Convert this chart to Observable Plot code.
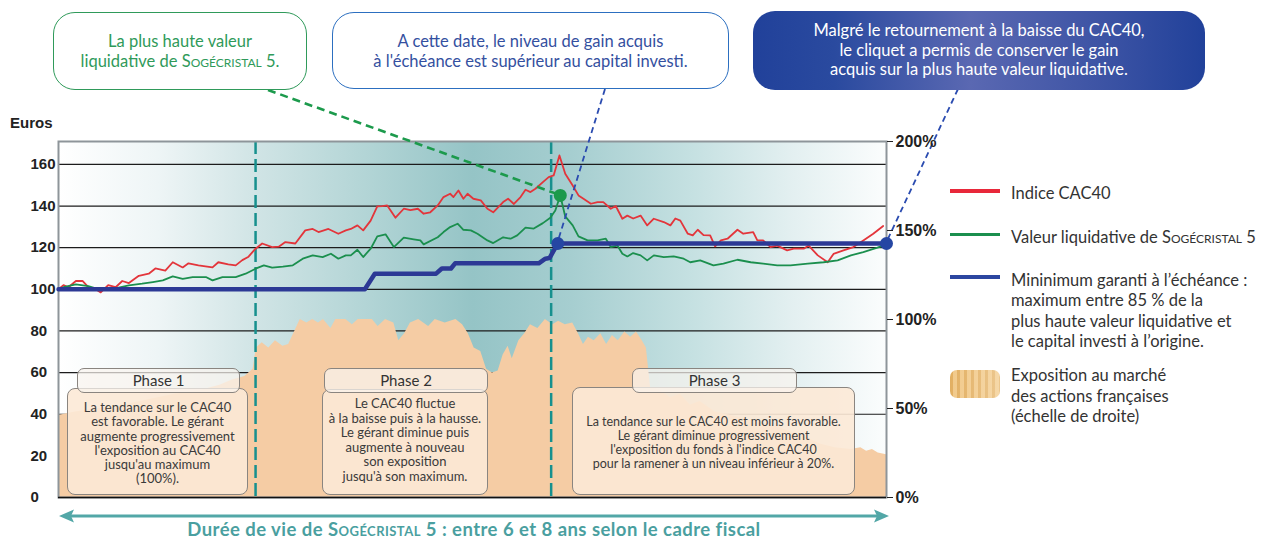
<!DOCTYPE html>
<html><head><meta charset="utf-8">
<script src="https://cdn.jsdelivr.net/npm/d3@7"></script>
<script src="https://cdn.jsdelivr.net/npm/@observablehq/plot@0.6"></script>
<style>
body{margin:0;background:#fff;font-family:Lato,"Open Sans",sans-serif;}
#wrap{position:relative;width:1271px;height:540px;overflow:hidden;}
#wrap > svg{position:absolute;left:0;top:0;}
.abs{position:absolute;}
.sc{font-variant:small-caps;}
.callout{position:absolute;box-sizing:border-box;border-radius:22px;display:flex;align-items:center;justify-content:center;text-align:center;font-size:16.5px;line-height:20px;}
#c1{left:53px;top:12px;width:254px;height:78px;border:1.5px solid #2f9a5a;color:#2f9a5a;background:#fff;}
#c2{left:332px;top:12px;width:397px;height:77px;border:1.5px solid #2c6fc0;color:#3450a0;background:#fff;}
#c3{left:753px;top:11px;width:452px;height:79px;color:#fff;line-height:19.5px;
  background:linear-gradient(90deg,#21419a 0%,#2a4a9f 18%,#5a68b2 48%,#3c53a4 78%,#21419a 100%);}
.pmain{position:absolute;box-sizing:border-box;border:1.2px solid #8a8580;border-radius:8px;background:rgba(252,233,214,0.9);color:#3a3a3a;text-align:center;font-size:13px;}
.phead{position:absolute;box-sizing:border-box;border:1.2px solid #8a8580;border-radius:7px;background:rgba(250,244,238,0.72);color:#333;text-align:center;font-size:15px;line-height:23px;}
#p1m{left:67px;top:388px;width:181px;height:107px;line-height:14.3px;padding-top:11px;}
#p1h{left:77px;top:368px;width:163px;height:25px;}
#p2m{left:322px;top:389px;width:166px;height:106px;line-height:14.6px;padding-top:6px;}
#p2h{left:324px;top:368px;width:164px;height:25px;}
#p3m{left:572px;top:387px;width:283px;height:108px;line-height:13.9px;padding-top:27px;font-size:12.5px;}
#p3h{left:632px;top:368px;width:165px;height:25px;}
.lg{position:absolute;left:1011px;font-size:16.5px;color:#333;white-space:nowrap;}
.lgline{position:absolute;left:950px;width:50px;}
#euros{left:10px;top:114px;font-family:"Liberation Sans",Arial,sans-serif;font-weight:bold;font-size:15px;color:#222;}
#life{left:0;width:948px;top:518.5px;height:20px;line-height:20px;text-align:center;color:#4a9fa0;font-weight:bold;font-size:18.5px;letter-spacing:0.45px;white-space:nowrap;}
</style>
</head><body>
<div id="wrap"></div>
<script>
// ---- data ----
const YMAX = 171;                       // left scale top (euros)
const leftTicks = [0,20,40,60,80,100,120,140,160];
const gridValues = [20,40,60,80,100,120,140,160];
const rightTicks = [0,50,100,150,200];  // % exposure
const phaseBounds = [23.8, 59.5];       // time (% of fund life)

const cac40 = [[0,100],[0.6,102],[1.2,101],[2.1,104],[2.9,104],[3.6,101],[4.5,100],[5.1,98.5],[6.0,102],[6.9,101],[7.7,104],[8.5,103],[9.7,106.5],[10.9,107.5],[11.7,110],[12.9,109],[13.8,113],[15.0,110.5],[15.7,112.5],[16.9,111.5],[18.6,110.5],[19.3,113],[20.5,112],[21.4,111.5],[22.2,114],[22.9,115.5],[23.8,119.5],[24.6,122],[25.8,120.3],[26.6,120.5],[27.4,122.7],[28.6,122],[29.8,128.3],[30.7,129],[31.4,127.5],[32.6,129],[33.8,126.7],[34.7,128.3],[35.3,129],[36.1,130.7],[36.8,128.3],[37.7,133],[38.5,139.8],[39.1,140],[39.7,140.3],[40.7,134.4],[41.7,138.7],[42.5,138],[43.4,138.7],[44.1,136.3],[44.9,137],[45.8,140.3],[46.5,144.3],[47.3,145.9],[47.7,144.3],[48.3,147.5],[48.9,143.5],[49.4,145.9],[50.1,143.5],[51.0,142.7],[51.8,138.7],[52.5,137],[53.7,141.9],[54.3,143.5],[55.0,141],[55.8,144.3],[56.4,147.8],[57.0,146.7],[57.6,148.3],[58.5,151.5],[59.2,153.9],[59.8,154.7],[60.5,164.3],[61.2,155.5],[62.1,149.9],[62.8,145.1],[63.4,143.5],[64.3,141.1],[65.1,141.9],[65.8,141.9],[66.7,138.7],[67.3,140],[68.1,133.9],[68.7,135.4],[69.4,134],[70.3,135.4],[71.1,130.7],[71.9,133.9],[73.1,132.3],[73.9,130.7],[74.5,134],[75.1,133],[76.0,126.7],[76.6,125.9],[77.2,128.6],[77.9,126],[78.7,125.9],[79.3,120.6],[80.0,123.5],[80.8,124.3],[82.0,128.6],[82.7,126.7],[83.9,127.5],[84.4,123.5],[85.1,123.5],[86.0,120.3],[86.8,121],[88.0,118.7],[88.8,119.5],[90.0,119.5],[90.6,121],[91.7,116.3],[92.9,113],[93.6,117],[94.8,118.7],[96.0,120.3],[97.2,123.5],[98.4,126.7],[99.6,130.4]];

const sogecristal = [[0,100],[0.6,101],[2.1,102.4],[3.6,101.5],[4.5,100.5],[6.3,100],[8.5,101.9],[10.1,102.7],[11.4,103.5],[12.6,104.3],[13.8,106.2],[15.0,105],[16.2,105.9],[17.8,105.9],[18.6,104.3],[19.8,105.9],[21.4,105.9],[22.6,107.5],[23.8,109.9],[24.8,111.5],[25.8,110.4],[27.1,110.9],[28.3,111.5],[29.5,114.7],[30.7,116.3],[31.9,115.5],[32.9,117.1],[33.8,114.7],[34.7,116.3],[35.3,116.3],[36.1,119],[36.8,115.5],[37.7,119.5],[38.5,125.4],[39.5,126.4],[40.5,120.3],[41.7,124.8],[42.9,124],[43.7,123.5],[44.1,121.6],[45.8,125],[46.5,127.5],[47.3,129.9],[48.2,131.5],[48.9,128.6],[49.8,128.3],[50.6,126.7],[51.8,123.5],[52.5,122.2],[53.7,125],[54.6,124.3],[55.4,125.9],[56.4,129.6],[57.4,129.2],[58.5,131.8],[59.4,134.4],[60.0,137.9],[60.6,145.1],[61.2,135],[62.1,130.7],[62.8,125.4],[63.9,123.5],[65.1,123.5],[66.1,124.3],[66.7,120.3],[67.5,121],[68.1,117.1],[68.7,115.8],[69.4,117.4],[70.3,116.3],[71.1,113.9],[71.9,116.3],[73.1,115.5],[74.3,115.8],[75.5,114.7],[76.3,113],[77.5,113.9],[79.1,111.5],[80.3,112.3],[82.0,114.2],[83.6,113],[85.1,112.3],[86.8,111.5],[88.4,111.5],[90.5,112.3],[92.4,113],[94.1,113.9],[95.7,116.3],[97.2,117.9],[98.9,120],[100,121.6]];

const guarantee = [[0,100],[37.0,100],[38.2,107.5],[45.6,107.5],[46.3,110],[47.4,110],[47.9,112.5],[58.0,112.5],[58.8,114.7],[59.3,115],[60.3,122],[100,122]];

const exposure = [[0,46],[2,48],[5,50],[8,52],[11,55],[14,58],[17,60],[19.5,63],[21,66],[22.5,68],[23.5,72],[23.9,84],[24.6,87],[25.4,84],[26.2,88],[27.1,85],[27.8,86],[28.4,92],[29.2,100],[30.0,98],[30.7,100],[31.4,98],[32.0,100],[32.9,95],[33.5,100],[34.7,100],[35.5,97],[36.2,100],[37.9,100],[38.6,96],[39.5,100],[40.5,98],[41.1,88],[41.8,92],[42.5,98],[43.5,100],[44.7,96],[45.5,100],[46.7,98],[48.0,100],[48.8,97],[49.5,92],[50.2,84],[51.0,82],[51.7,72],[52.4,70],[53.1,71],[53.7,80],[54.3,85],[54.8,78],[55.6,88],[56.3,92],[57.0,97],[57.9,95],[58.8,100],[59.7,97],[60.4,99],[61.2,97],[62.1,98],[62.8,92],[63.4,86],[64.0,90],[64.7,88],[65.5,92],[66.2,86],[66.9,91],[67.6,88],[68.4,93],[69.1,90],[69.8,93],[70.5,88],[71.0,84],[71.5,62],[72.7,60],[73.9,56],[75.1,58],[76.3,52],[77.5,54],[79.3,48],[81.2,46],[83.0,44],[84.8,42],[86.6,40],[88.4,37],[90.2,34],[92.0,30],[93.8,28],[95.7,27],[96.9,28],[97.6,26],[98.3,27],[99.0,25],[100,24]];

const highPoint = [[60.6,145.1]];
const guaranteePoints = [[60.3,122],[100,122]];

// ---- chart ----
const toObj = a => a.map(([t, v]) => ({t, v}));

function defsMark() {
  const defs = d3.create("svg:defs");
  const g = defs.append("linearGradient").attr("id", "bgGrad").attr("x1", 0).attr("x2", 1).attr("y1", 0).attr("y2", 0);
  [[0,"#ffffff"],[0.12,"#eef5f6"],[0.24,"#d0e4e5"],[0.37,"#b3d5d6"],[0.5,"#95c4c6"],[0.62,"#a6ced0"],[0.76,"#c4e0e1"],[0.89,"#e4f0f1"],[1,"#fbfdfd"]]
    .forEach(([o, c]) => g.append("stop").attr("offset", o).attr("stop-color", c));
  return defs.node();
}

const font = "'Liberation Sans', Arial, sans-serif";
const chart = Plot.plot({
  width: 1271, height: 540,
  marginLeft: 58, marginRight: 385, marginTop: 141, marginBottom: 43,
  x: {domain: [0, 100], axis: null},
  y: {domain: [0, YMAX], axis: null},
  style: {background: "transparent", overflow: "visible"},
  marks: [
    defsMark,
    Plot.frame({fill: "url(#bgGrad)"}),
    Plot.ruleY(gridValues, {stroke: "#1c1c1c", strokeWidth: 1.2}),
    Plot.areaY(toObj(exposure), {x: "t", y: d => d.v * YMAX / 200, fill: "#f5cca4", curve: "linear"}),
    Plot.ruleX(phaseBounds, {stroke: "#17908e", strokeWidth: 2.5, strokeDasharray: "13,5"}),
    Plot.frame({stroke: "#8e959a", strokeWidth: 2}),
    Plot.ruleY([0], {stroke: "#111", strokeWidth: 1.5}),
    Plot.line(toObj(cac40), {x: "t", y: "v", stroke: "#e3353b", strokeWidth: 1.8}),
    Plot.line(toObj(sogecristal), {x: "t", y: "v", stroke: "#1b8f4e", strokeWidth: 1.8}),
    Plot.line(toObj(guarantee), {x: "t", y: "v", stroke: "#2c3995", strokeWidth: 4.5}),
    Plot.dot(toObj(highPoint), {x: "t", y: "v", r: 6.5, fill: "#1c9a4c"}),
    Plot.dot(toObj(guaranteePoints), {x: "t", y: "v", r: 6.5, fill: "#2546a3"}),
    Plot.axisY({anchor: "left", ticks: leftTicks, tickSize: 0, tickPadding: 0, textAnchor: "start", dx: -28,
      label: null, fontSize: 15, fontWeight: "bold", fill: "#222", fontFamily: font}),
    Plot.axisY({anchor: "right", ticks: rightTicks.map(p => p * YMAX / 200), tickFormat: v => Math.round(v * 200 / YMAX) + "%",
      tickSize: 6, tickPadding: 3, label: null, fontSize: 16, fontWeight: "bold", fill: "#222", stroke: "#222", fontFamily: font})
  ]
});
document.getElementById("wrap").appendChild(chart);

// callout connectors (drawn under the key dots)
const sx = chart.scale("x"), sy = chart.scale("y");
const svg = d3.select(chart);
const firstCircle = chart.querySelector("circle");
const dotG = firstCircle ? firstCircle.parentNode : null;
const conn = d3.create("svg:g").attr("fill", "none");
const hp = highPoint[0], gp = guaranteePoints[0], ep = guaranteePoints[1];
conn.append("line").attr("x1", 268).attr("y1", 90).attr("x2", sx.apply(hp[0])).attr("y2", sy.apply(hp[1]))
  .attr("stroke", "#1c9a4c").attr("stroke-width", 2.6).attr("stroke-dasharray", "8,5");
conn.append("line").attr("x1", 605).attr("y1", 89).attr("x2", sx.apply(gp[0])).attr("y2", sy.apply(gp[1]))
  .attr("stroke", "#2a4bb0").attr("stroke-width", 1.8).attr("stroke-dasharray", "6,4");
conn.append("line").attr("x1", 958).attr("y1", 89).attr("x2", sx.apply(ep[0])).attr("y2", sy.apply(ep[1]))
  .attr("stroke", "#2a4bb0").attr("stroke-width", 1.8).attr("stroke-dasharray", "6,4");
if (dotG && dotG.parentNode === chart) chart.insertBefore(conn.node(), dotG); else chart.appendChild(conn.node());

// double-headed life arrow under the chart
const ax0 = sx.apply(0) + 1, ax1 = sx.apply(100) + 3, ay = 516;
const arr = svg.append("g").attr("fill", "#52a7a7");
arr.append("line").attr("x1", ax0 + 10).attr("x2", ax1 - 10).attr("y1", ay).attr("y2", ay).attr("stroke", "#52a7a7").attr("stroke-width", 3);
arr.append("path").attr("d", `M${ax0},${ay}L${ax0 + 15},${ay - 6.5}L${ax0 + 12},${ay}L${ax0 + 15},${ay + 6.5}Z`);
arr.append("path").attr("d", `M${ax1},${ay}L${ax1 - 15},${ay - 6.5}L${ax1 - 12},${ay}L${ax1 - 15},${ay + 6.5}Z`);

// ---- text overlays ----
const wrap = document.getElementById("wrap");
wrap.insertAdjacentHTML("beforeend", `
<div class="abs" id="euros">Euros</div>
<div class="callout" id="c1"><div>La plus haute valeur<br>liquidative de <span class="sc">Sogécristal</span> 5.</div></div>
<div class="callout" id="c2"><div>A cette date, le niveau de gain acquis<br>à l'échéance est supérieur au capital investi.</div></div>
<div class="callout" id="c3"><div>Malgré le retournement à la baisse du CAC40,<br>le cliquet a permis de conserver le gain<br>acquis sur la plus haute valeur liquidative.</div></div>

<div class="pmain" id="p1m">La tendance sur le CAC40<br>est favorable. Le gérant<br>augmente progressivement<br>l'exposition au CAC40<br>jusqu'au maximum<br>(100%).</div>
<div class="phead" id="p1h">Phase 1</div>
<div class="pmain" id="p2m">Le CAC40 fluctue<br>à la baisse puis à la hausse.<br>Le gérant diminue puis<br>augmente à nouveau<br>son exposition<br>jusqu'à son maximum.</div>
<div class="phead" id="p2h">Phase 2</div>
<div class="pmain" id="p3m">La tendance sur le CAC40 est moins favorable.<br>Le gérant diminue progressivement<br>l'exposition du fonds à l'indice CAC40<br>pour la ramener à un niveau inférieur à 20%.</div>
<div class="phead" id="p3h">Phase 3</div>

<div class="lgline" style="top:189px;height:3.5px;background:#e8283a;"></div>
<div class="lg" style="top:183px;line-height:20px;">Indice CAC40</div>
<div class="lgline" style="top:232.5px;height:3.5px;background:#1b8f4e;"></div>
<div class="lg" style="top:226.5px;line-height:20px;">Valeur liquidative de <span class="sc">Sogécristal</span> 5</div>
<div class="lgline" style="top:275px;height:4px;background:#2c46a0;"></div>
<div class="lg" style="top:270px;line-height:20.4px;">Mininimum garanti à l’échéance :<br>maximum entre 85 % de la<br>plus haute valeur liquidative et<br>le capital investi à l’origine.</div>
<div class="abs" style="left:950px;top:370px;width:50px;height:28px;border-radius:7px;background:linear-gradient(90deg,rgba(255,255,255,0) 0%,rgba(255,244,225,0.35) 100%),repeating-linear-gradient(90deg,#e2af62 0px,#e2af62 3px,#f1c98a 3px,#f1c98a 7px);"></div>
<div class="lg" style="top:365px;line-height:20.5px;">Exposition au marché<br>des actions françaises<br>(échelle de droite)</div>

<div class="abs" id="life">Durée de vie de <span class="sc">Sogécristal</span> 5 : entre 6 et 8 ans selon le cadre fiscal</div>
`);
</script>
</body></html>
